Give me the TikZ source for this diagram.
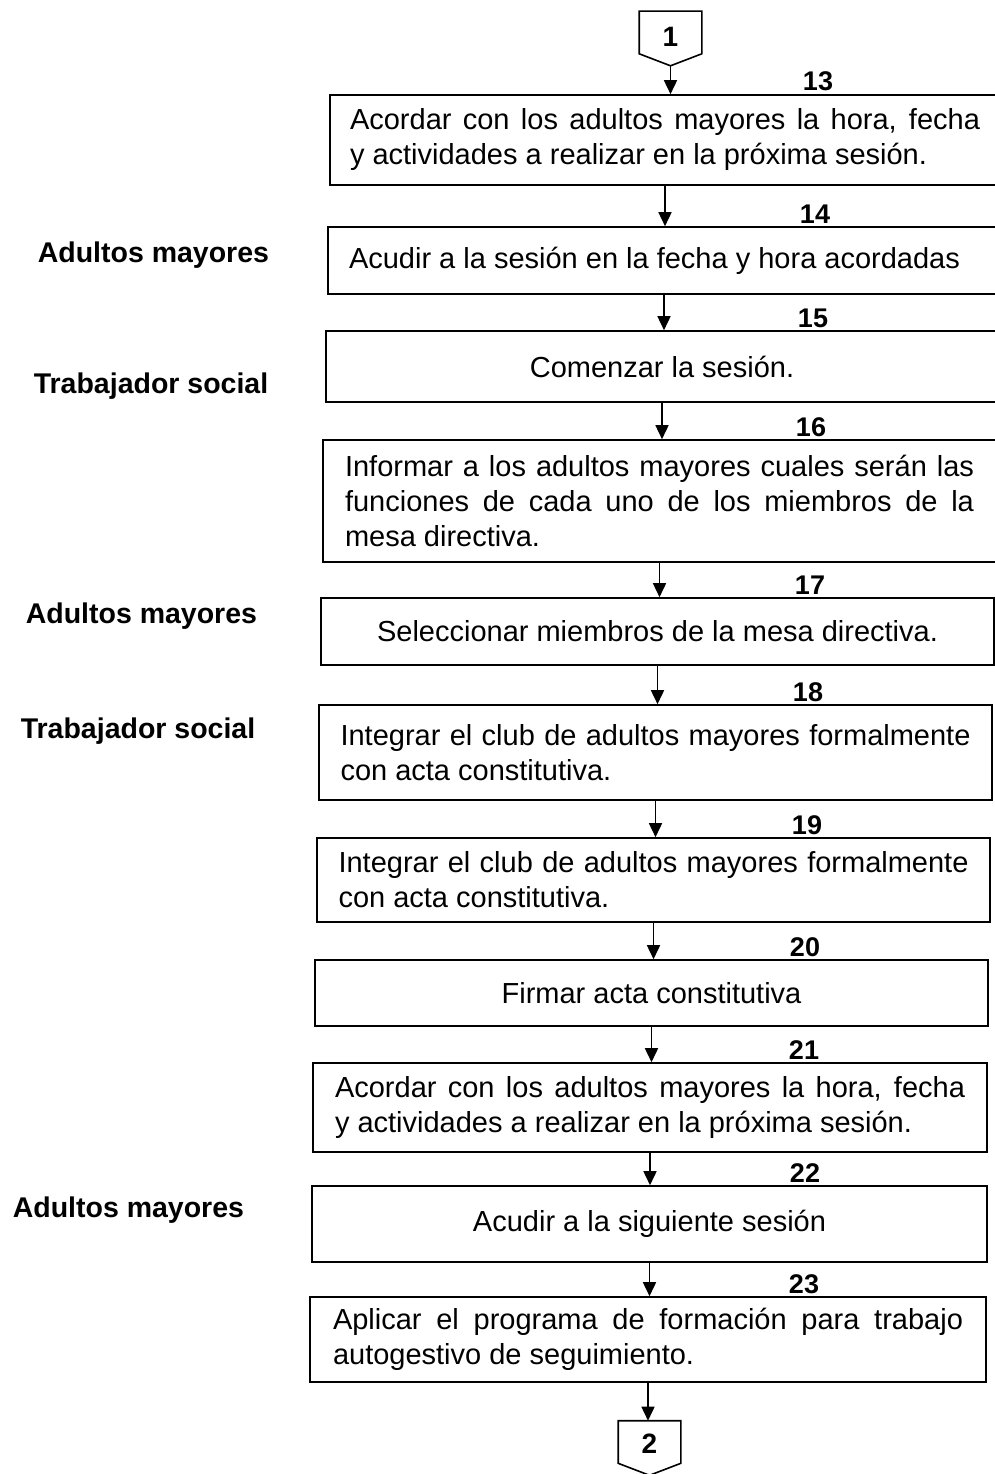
\documentclass[tikz,border=0pt]{standalone}
\usepackage{fontspec}
\setmainfont{Liberation Sans}
\usetikzlibrary{arrows.meta}
\newcommand{\jst}[2]{\makebox[#1][s]{#2}}
\newcommand{\boxtext}[2]{\parbox{#1}{\raggedright #2}}
\begin{document}
\begin{tikzpicture}[x=1pt,y=-1pt,
  every path/.style={line width=1.6pt},
  box/.style={draw, line width=1.6pt, inner xsep=20pt, inner ysep=2pt,
    font=\fontsize{29}{35}\selectfont},
  num/.style={anchor=base, inner sep=0pt, font=\fontsize{27}{30}\selectfont\bfseries},
  actor/.style={anchor=base west, inner sep=0pt, font=\fontsize{28.5}{32}\selectfont\bfseries},
  conn/.style={minimum width=61pt, minimum height=53pt, inner sep=0pt, draw=none},
  connlbl/.style={inner sep=0pt, font=\fontsize{28}{30}\selectfont\bfseries},
  arr/.style={-{Triangle[length=14pt,width=13pt]}, line width=1.6pt}]
\useasboundingbox (0,0) rectangle (994,1474);

% off-page connector 1
\node[conn] (c1) at (670.5,38.5) {};
\draw (c1.north west) -- ([yshift=12pt]c1.south west) -- (c1.south) -- ([yshift=12pt]c1.south east) -- (c1.north east) -- cycle;
\node[connlbl] (t1) at (670.5,37) {1};

% boxes
\node[box, minimum width=670pt, minimum height=90pt] (b13) at (665,140)
  {\boxtext{630pt}{\jst{630pt}{Acordar con los adultos mayores la hora, fecha}\\y actividades a realizar en la próxima sesión.}};
\node[box, minimum width=672pt, minimum height=67pt] (b14) at (664,260.5)
  {\boxtext{630pt}{Acudir a la sesión en la fecha y hora acordadas}};
\node[box, minimum width=672pt, minimum height=71pt] (b15) at (662,366.5)
  {Comenzar la sesión.};
\node[box, minimum width=673pt, minimum height=122pt] (b16) at (659.5,501)
  {\boxtext{629pt}{\jst{629pt}{Informar a los adultos mayores cuales serán las}\\\jst{629pt}{funciones de cada uno de los miembros de la}\\mesa directiva.}};
\node[box, minimum width=673pt, minimum height=67pt] (b17) at (657.5,631.5)
  {Seleccionar miembros de la mesa directiva.};
\node[box, minimum width=673pt, minimum height=95pt] (b18) at (655.5,752.5)
  {\boxtext{630pt}{\jst{630pt}{Integrar el club de adultos mayores formalmente}\\con acta constitutiva.}};
\node[box, minimum width=673pt, minimum height=84pt] (b19) at (653.5,880)
  {\boxtext{630pt}{\jst{630pt}{Integrar el club de adultos mayores formalmente}\\con acta constitutiva.}};
\node[box, minimum width=673pt, minimum height=66pt] (b20) at (651.5,993)
  {Firmar acta constitutiva};
\node[box, minimum width=674pt, minimum height=89pt] (b21) at (650,1107.5)
  {\boxtext{630pt}{\jst{630pt}{Acordar con los adultos mayores la hora, fecha}\\y actividades a realizar en la próxima sesión.}};
\node[box, minimum width=675pt, minimum height=76pt] (b22) at (649.5,1224)
  {Acudir a la siguiente sesión};
\node[box, minimum width=676pt, minimum height=85pt] (b23) at (648,1339.5)
  {\boxtext{630pt}{\jst{630pt}{Aplicar el programa de formación para trabajo}\\autogestivo de seguimiento.}};

% step numbers
\node[num] (n13) at (818,91) {13};
\node[num] (n14) at (815,223) {14};
\node[num] (n15) at (813,327) {15};
\node[num] (n16) at (811,436) {16};
\node[num] (n17) at (810,594) {17};
\node[num] (n18) at (808,701) {18};
\node[num] (n19) at (807,834) {19};
\node[num] (n20) at (805,956) {20};
\node[num] (n21) at (804,1059) {21};
\node[num] (n22) at (805,1182) {22};
\node[num] (n23) at (804,1293) {23};

% actors
\node[actor] (a1) at (37,262) {Adultos mayores};
\node[actor] (a2) at (33,393) {Trabajador social};
\node[actor] (a3) at (25,623) {Adultos mayores};
\node[actor] (a4) at (20,738) {Trabajador social};
\node[actor] (a5) at (12,1217) {Adultos mayores};

% off-page connector 2
\node[conn] (c2) at (649.5,1448) {};
\draw (c2.north west) -- ([yshift=12pt]c2.south west) -- (c2.south) -- ([yshift=12pt]c2.south east) -- (c2.north east) -- cycle;
\node[connlbl] (t2) at (649.5,1444) {2};

% connectors
\draw[arr] (c1.south) -- (c1.south |- b13.north);
\draw[arr] (b13.south) -- (b13.south |- b14.north);
\draw[arr] (b14.south) -- (b14.south |- b15.north);
\draw[arr] (b15.south) -- (b15.south |- b16.north);
\draw[arr] (b16.south) -- (b16.south |- b17.north);
\draw[arr] (b17.south) -- (b17.south |- b18.north);
\draw[arr] (b18.south) -- (b18.south |- b19.north);
\draw[arr] (b19.south) -- (b19.south |- b20.north);
\draw[arr] (b20.south) -- (b20.south |- b21.north);
\draw[arr] (b21.south) -- (b21.south |- b22.north);
\draw[arr] (b22.south) -- (b22.south |- b23.north);
\draw[arr] (b23.south) -- (b23.south |- c2.north);
\end{tikzpicture}
\end{document}
